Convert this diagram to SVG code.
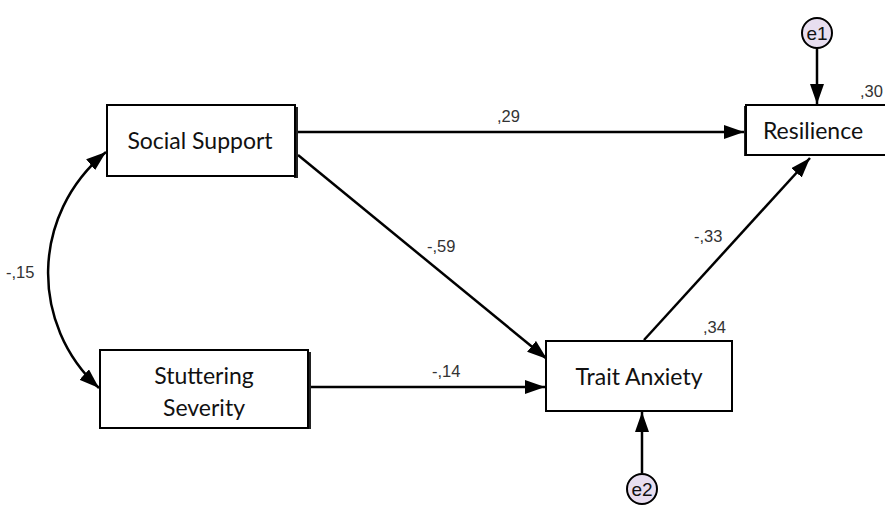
<svg xmlns="http://www.w3.org/2000/svg" width="885" height="506" viewBox="0 0 885 506">
<defs>
<marker id="ah" viewBox="0 0 20 14" refX="20" refY="7" markerWidth="20" markerHeight="14" markerUnits="userSpaceOnUse" orient="auto-start-reverse">
<path d="M0,0 L20,7 L0,14 Z" fill="#000"/>
</marker>
</defs>
<style>
.box{fill:#fff;stroke:#000;stroke-width:2}
.sh{fill:#222}
.lbl{font-family:Lato,"Open Sans","Liberation Sans",sans-serif;font-size:23px;fill:#111;text-anchor:middle}
.num{font-family:"Liberation Sans",Arial,sans-serif;font-size:16.5px;fill:#333}
.err{fill:#e8def0;stroke:#000;stroke-width:2}
.etx{font-family:"Liberation Sans",Arial,sans-serif;font-size:19px;fill:#111;text-anchor:middle}
.ln{fill:none;stroke:#000;stroke-width:2.5}
</style>
<rect width="885" height="506" fill="#fff"/>
<g id="connectors">
<path class="ln" d="M298,132 L744,132" marker-end="url(#ah)"/>
<path class="ln" d="M298,155 L547,359" marker-end="url(#ah)"/>
<path class="ln" d="M311,387 L545,387" marker-end="url(#ah)"/>
<path class="ln" d="M644,340 L810,158" marker-end="url(#ah)"/>
<path class="ln" d="M106,152 C30,215 30,325 99,388" marker-start="url(#ah)" marker-end="url(#ah)"/>
<path class="ln" d="M817,48 L817,104" marker-end="url(#ah)"/>
<path class="ln" d="M642,473 L642,412" marker-end="url(#ah)"/>
<text class="num" x="497" y="122">,29</text>
<text class="num" x="427" y="252">-,59</text>
<text class="num" x="694" y="242">-,33</text>
<text class="num" x="432" y="377">-,14</text>
<text class="num" x="6" y="278">-,15</text>
</g>
<g id="social-support">
<rect class="sh" x="294" y="107" width="4" height="71"/>
<rect class="box" x="107" y="105" width="188" height="71"/>
<text class="lbl" x="200" y="149">Social Support</text>
</g>
<g id="stuttering-severity">
<rect class="sh" x="307" y="352" width="4" height="77"/>
<rect class="box" x="100" y="350" width="208" height="78"/>
<text class="lbl" x="204" y="384">Stuttering</text>
<text class="lbl" x="204" y="416">Severity</text>
</g>
<g id="trait-anxiety">
<rect class="box" x="546" y="341" width="186" height="70"/>
<text class="lbl" x="639" y="385">Trait Anxiety</text>
<text class="num" x="703" y="333">,34</text>
</g>
<g id="resilience">
<rect class="sh" x="744" y="106" width="4" height="50"/>
<rect class="box" x="746" y="105" width="150" height="50"/>
<text class="lbl" x="813" y="139">Resilience</text>
<text class="num" x="860" y="97">,30</text>
</g>
<g id="e1">
<ellipse class="err" cx="817" cy="33" rx="15" ry="15"/>
<text class="etx" x="817" y="40">e1</text>
</g>
<g id="e2">
<ellipse class="err" cx="642" cy="489" rx="15" ry="15"/>
<text class="etx" x="642" y="496">e2</text>
</g>
</svg>
